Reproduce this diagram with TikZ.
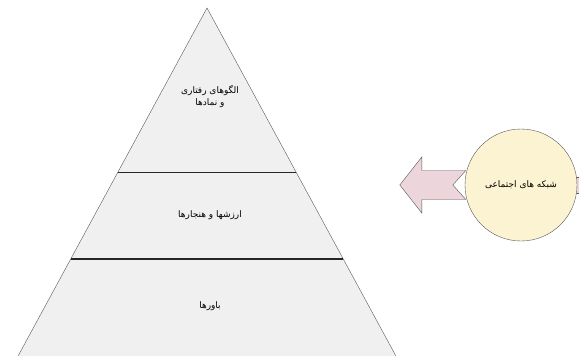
\documentclass[tikz,border=0pt]{standalone}
\usepackage{fontspec}
\newfontfamily\arabicfont[Script=Arabic]{DejaVu Sans}
\TeXXeTstate=1
\usetikzlibrary{positioning, calc}
\pgfdeclarelayer{background}
\pgfsetlayers{background,main}
\definecolor{pyrgray}{RGB}{240,240,240}
\definecolor{netyellow}{RGB}{252,243,210}
\definecolor{arrowpink}{RGB}{236,214,220}

\begin{document}
\begin{tikzpicture}[
        x=1pt, y=-1pt,
        divider/.style={draw=black!85, line width=1.3pt},
        tierlabel/.style={font=\arabicfont\fontsize{9}{12}\selectfont, align=center, text=black},
        network/.style={circle, draw=gray!70!black, fill=netyellow, minimum size=112pt, inner sep=0pt, font=\arabicfont\fontsize{9}{12}\selectfont},
        bigarrow/.style={draw=gray!70!black, fill=arrowpink, line join=miter}
    ]
        \useasboundingbox (0,0) rectangle (579,356);
        \clip (0,0) rectangle (579,356);
        % pyramid
        \coordinate (apex) at (207,8);
        \coordinate (baseL) at (17,358);
        \coordinate (baseR) at (397,358);
        \draw[draw=gray!70!black, fill=pyrgray] (apex) -- (baseL) -- (baseR) -- cycle;
        \draw[divider] ($(apex)!0.471!(baseL)$) -- ($(apex)!0.471!(baseR)$);
        \draw[divider] ($(apex)!0.717!(baseL)$) -- ($(apex)!0.717!(baseR)$);
        \node (symbols) [tierlabel] at (210,97) {\beginR الگوهای رفتاری\endR \\ \beginR و نمادها\endR};
        \node (values) [tierlabel] at (210,215) {\beginR ارزشها و هنجارها\endR};
        \node (beliefs) [tierlabel] at (210,306) {\beginR باورها\endR};
        % social networks
        \node (net) [network] at (521,185) {\beginR شبکه های اجتماعی\endR};
        \begin{pgfonlayer}{background}
            \fill[white] (0,0) rectangle (579,356);
            \draw[bigarrow, shift={(net.west)}] (1,-14.5) -- (-43,-14.5) -- (-43,-28) -- (-65,0) -- (-43,28) -- (-43,14.5) -- (1,14.5) -- (-12,0) -- cycle;
            \draw[bigarrow, shift={(net.east)}] (-2,-8) -- (30,-8) -- (30,8) -- (-2,8) -- cycle;
        \end{pgfonlayer}
    \end{tikzpicture}
\end{document}
